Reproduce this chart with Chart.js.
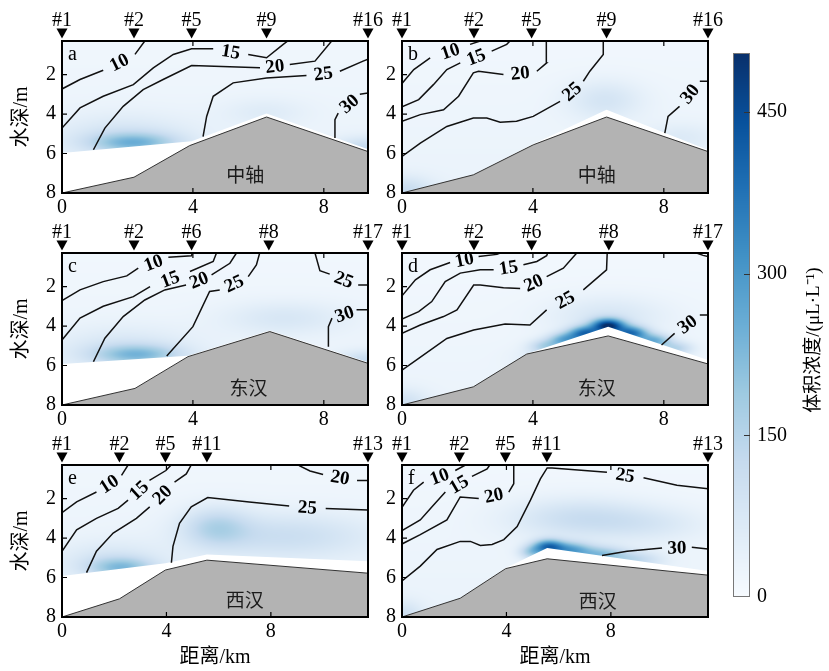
<!DOCTYPE html>
<html>
<head>
<meta charset="utf-8">
<script src="https://cdn.jsdelivr.net/npm/chart.js@4.4.1/dist/chart.umd.min.js"></script>
<style>
  body { margin: 0; background: #fff; }
  #wrap { position: relative; width: 829px; height: 671px; }
  #wrap canvas { position: absolute; left: 0; top: 0; }
</style>
</head>
<body>
<div id="wrap"></div>
<script>
// ---- data ----
const panelIds = ['a', 'b', 'c', 'd', 'e', 'f'];
const regionNames = ['中轴', '中轴', '东汉', '东汉', '西汉', '西汉'];
const xMaxKm = [9.35, 9.35, 9.35, 9.35, 11.72, 11.72];
const xTicks = [0, 4, 8];
const yTicks = [2, 4, 6, 8];
const colorTicks = [0, 150, 300, 450];

const stationNames = [
  ['#1', '#2', '#5', '#9', '#16'],
  ['#1', '#2', '#6', '#8', '#17'],
  ['#1', '#2', '#5', '#11', '#13']
];
const stationKm = [
  [0, 2.2, 3.96, 6.25, 9.35],
  [0, 2.2, 3.96, 6.32, 9.35],
  [0, 2.2, 3.96, 5.55, 11.72]
];

// bed profile (km, depth m)
const terrainA = [[0, 8], [2.2, 7.2], [3.9, 5.6], [6.25, 4.15], [9.35, 5.9]];
const terrainB = [[0, 8], [2.18, 7.08], [4.01, 5.56], [6.25, 4.15], [9.35, 5.9]];
const terrainC = [[0, 8], [2.23, 7.16], [3.85, 5.55], [6.35, 4.28], [9.35, 5.89]];
const terrainD = [[0, 8], [2.18, 7.08], [3.81, 5.42], [6.3, 4.5], [9.35, 5.92]];
const terrainE = [[0, 8], [2.2, 7.08], [3.96, 5.62], [5.55, 5.12], [11.72, 5.78]];
const terrainF = [[0, 8], [2.23, 7.05], [3.97, 5.55], [5.56, 5.05], [11.72, 5.88]];

// lower edge of the sampled water column
const waterA = [[0, 5.98], [3.96, 5.38], [6.25, 3.97], [9.35, 5.78]];
const waterB = [[0, 8], [2.18, 7.08], [4.01, 5.52], [6.25, 3.78], [9.35, 5.82]];
const waterC = [[0, 5.92], [3.85, 5.5], [6.35, 4.22], [9.35, 5.84]];
const waterD = [[0, 8], [2.18, 7.08], [3.81, 5.4], [6.3, 4.03], [9.35, 5.72]];
const waterE = [[0, 5.92], [3.96, 5.28], [5.55, 4.83], [11.72, 5.18]];
const waterF = [[0, 8], [2.23, 7.05], [3.97, 5.52], [5.56, 4.5], [11.72, 5.67]];

// background level at surface / bottom, µL/L
const bgA = [18, 36], bgB = [16, 34], bgC = [16, 34], bgD = [14, 30], bgE = [18, 38], bgF = [16, 34];

// concentration hot spots: km, depth, µL/L, spread km, spread m
const spotsA = [[2.2, 5.45, 165, 0.9, 0.35], [1.9, 5.2, 65, 1.5, 0.8], [9.3, 5.75, 100, 0.7, 0.4], [6.2, 3.9, 35, 0.9, 0.5]];
const spotsB = [[6.2, 3.3, 65, 0.8, 0.7], [0.1, 7.9, 90, 0.6, 0.5], [8.5, 5.2, 40, 0.8, 0.5]];
const spotsC = [[2.3, 5.45, 160, 0.9, 0.35], [1.9, 5.2, 60, 1.5, 0.8], [6.8, 3.6, 55, 1.3, 0.6], [9.3, 5.75, 95, 0.6, 0.35]];
const spotsD = [[4.4, 5.03, 130, 0.35, 0.25], [5.0, 4.7, 230, 0.35, 0.25], [5.6, 4.37, 330, 0.35, 0.25],
  [6.3, 3.98, 430, 0.35, 0.25], [7.0, 4.37, 330, 0.35, 0.25], [7.7, 4.76, 220, 0.35, 0.25],
  [8.4, 5.14, 120, 0.35, 0.25], [6.3, 3.5, 60, 1.2, 0.7], [4.3, 5.6, 40, 0.6, 0.4], [0.1, 7.9, 70, 0.5, 0.5]];
const spotsE = [[2.3, 5.5, 150, 0.85, 0.35], [1.9, 5.2, 60, 1.4, 0.7], [5.9, 3.45, 110, 0.9, 0.7], [8.6, 3.9, 85, 2.3, 0.8]];
const spotsF = [[6.8, 3.0, 90, 1.8, 0.7], [9.5, 3.3, 45, 1.5, 0.6], [5.0, 4.72, 150, 0.35, 0.25],
  [5.6, 4.42, 300, 0.4, 0.25], [6.4, 4.6, 230, 0.55, 0.28], [7.6, 4.85, 180, 0.7, 0.3],
  [9.0, 5.12, 100, 0.7, 0.3], [0.1, 7.9, 70, 0.5, 0.5]];

// contours: [level, index where the label breaks the line, points (km, depth)]
const contoursA = [
  [10, 3, [[0, 2.73], [0.55, 2.25], [1.26, 1.78], [2.23, 0.98], [2.53, 0.3]]],
  [15, 8, [[0, 4.71], [0.55, 3.69], [1.26, 3.1], [2.18, 2.51], [2.79, 1.66], [3.4, 0.98], [3.96, 0.69], [4.62, 0.69], [5.69, 0.98], [6.25, 1.15], [6.76, 0.47], [6.9, 0.3]]],
  [20, 7, [[0.96, 5.81], [1.31, 4.71], [1.87, 3.61], [2.48, 2.76], [3.09, 2.25], [3.96, 1.54], [6.05, 1.66], [6.96, 1.49], [7.73, 1.32], [8.24, 0.3]]],
  [25, 6, [[4.31, 5.14], [4.42, 4.12], [4.62, 3.1], [5.23, 2.42], [6.25, 2.17], [7.47, 2.05], [8.49, 1.83], [9.2, 1.32], [9.35, 1.22]]],
  [30, 2, [[9.35, 2.93], [9.1, 3.0], [8.44, 3.95], [8.34, 4.29], [8.34, 5.22]]]
];
const contoursB = [
  [10, 3, [[0, 2.45], [0.36, 1.75], [0.86, 1.15], [2.08, 0.47], [2.39, 0.3]]],
  [15, 5, [[0, 3.64], [0.51, 3.27], [0.96, 2.51], [1.37, 1.75], [1.78, 1.41], [2.74, 0.81], [3.2, 0.47], [3.3, 0.3]]],
  [20, 7, [[0, 4.37], [0.56, 4.03], [1.27, 3.78], [1.73, 3.1], [2.18, 1.91], [2.34, 1.83], [3.1, 2.0], [4.12, 1.83], [4.42, 1.41], [4.42, 0.47], [4.4, 0.3]]],
  [25, 9, [[0, 6.15], [0.56, 5.47], [1.37, 4.63], [2.18, 4.2], [2.59, 4.2], [3.0, 4.42], [3.5, 4.37], [4.01, 4.12], [4.83, 3.36], [5.54, 2.34], [5.74, 1.83], [6.15, 0.98], [6.15, 0.3]]],
  [30, 2, [[9.35, 2.34], [9.1, 2.34], [8.48, 3.61], [8.13, 4.12], [8.03, 4.97]]]
];
const contoursC = [
  [10, 5, [[0, 2.71], [0.55, 2.17], [1.26, 1.75], [1.98, 1.46], [2.33, 1.07], [3.25, 0.51], [3.96, 0.44], [3.98, 0.3]]],
  [15, 5, [[0, 4.71], [0.55, 3.6], [1.26, 3.0], [2.18, 2.51], [2.69, 2.0], [3.91, 1.24], [4.62, 0.73], [4.72, 0.3]]],
  [20, 6, [[0.96, 5.81], [1.31, 4.62], [1.87, 3.52], [2.53, 2.68], [3.14, 2.17], [3.79, 1.92], [4.57, 1.41], [5.13, 0.82], [5.33, 0.3]]],
  [25, 4, [[3.2, 5.52], [4.0, 4.03], [4.51, 2.25], [4.82, 2.17], [5.69, 1.5], [5.94, 0.9], [6.04, 0.3]]],
  [25, 3, [[7.73, 0.3], [7.88, 1.2], [8.18, 1.37], [9.05, 1.92], [9.35, 1.92]]],
  [30, 2, [[9.35, 3.18], [9.0, 3.18], [8.25, 3.6], [8.14, 4.03], [8.14, 5.05]]]
];
const contoursD = [
  [10, 4, [[0, 2.47], [0.41, 1.66], [0.86, 1.15], [1.47, 0.78], [2.34, 0.48], [2.9, 0.37], [3.0, 0.3]]],
  [15, 7, [[0, 3.65], [0.51, 3.27], [0.91, 2.76], [1.32, 1.75], [1.78, 1.32], [2.39, 1.15], [2.8, 1.15], [3.71, 0.9], [4.12, 0.73], [4.42, 0.44], [4.45, 0.3]]],
  [20, 8, [[0, 4.37], [0.56, 3.95], [1.27, 3.52], [1.68, 3.18], [2.19, 1.92], [2.39, 1.92], [3.1, 2.06], [3.61, 2.1], [4.42, 1.5], [4.93, 1.07], [5.34, 0.3]]],
  [25, 7, [[0, 6.23], [0.51, 5.64], [1.37, 4.63], [2.19, 4.2], [3.15, 3.9], [3.91, 3.95], [4.42, 3.18], [5.54, 2.17], [6.25, 1.15], [6.27, 0.3]]],
  [30, 2, [[9.35, 3.44], [9.1, 3.44], [8.33, 4.37], [7.93, 4.96]]],
  [30, 0, [[9.0, 0.3], [9.2, 0.42], [9.35, 0.48]]]
];
const contoursE = [
  [10, 3, [[0, 2.72], [0.56, 2.17], [1.32, 1.67], [2.28, 0.83], [2.53, 0.3]]],
  [15, 5, [[0, 4.67], [0.56, 3.58], [1.32, 3.0], [2.15, 2.5], [2.53, 2.08], [3.35, 1.08], [3.98, 0.58], [4.18, 0.3]]],
  [20, 5, [[0.94, 5.75], [1.32, 4.67], [1.96, 3.75], [2.85, 3.0], [3.36, 2.42], [4.31, 1.17], [4.76, 0.75], [4.95, 0.3]]],
  [25, 7, [[4.19, 5.25], [4.25, 4.42], [4.5, 3.25], [4.95, 2.42], [5.58, 1.95], [7.17, 2.17], [8.7, 2.38], [10.1, 2.5], [11.72, 2.58]]],
  [20, 3, [[9.08, 0.33], [9.5, 0.6], [10.0, 0.78], [11.3, 1.08], [11.72, 1.08]]]
];
const contoursF = [
  [10, 3, [[0, 2.45], [0.44, 1.58], [0.83, 1.17], [2.04, 0.58], [2.43, 0.3]]],
  [15, 4, [[0, 3.62], [0.7, 3.08], [1.21, 2.33], [1.66, 1.67], [2.68, 0.88], [3.26, 0.5], [3.36, 0.3]]],
  [20, 5, [[0, 4.3], [0.7, 3.83], [1.72, 3.08], [2.23, 1.92], [2.94, 2.0], [4.09, 1.67], [4.28, 1.25], [4.28, 0.35]]],
  [25, 14, [[0, 6.17], [0.7, 5.42], [1.34, 4.58], [2.23, 4.17], [2.62, 4.17], [3.0, 4.38], [3.45, 4.33], [3.9, 4.08], [4.41, 3.42], [4.92, 2.08], [5.3, 1.0], [5.56, 0.45], [5.75, 0.45], [7.85, 0.67], [9.25, 0.95], [10.53, 1.33], [11.72, 1.5]]],
  [30, 3, [[7.66, 4.88], [8.62, 4.67], [9.96, 4.5], [11.1, 4.47], [11.72, 4.55]]]
];

// ---- layout / style ----
const W = 829, H = 671;
const C_MAX = 505;
const SERIF = "'Liberation Serif', 'Times New Roman', 'Noto Sans CJK SC', serif";
const CJK = "'Noto Sans CJK SC', sans-serif";
const boxes = [[62, 41, 368, 193], [402, 41, 708, 193], [62, 253, 368, 405], [402, 253, 708, 405], [62, 465, 368, 617], [402, 465, 708, 617]];
const regionAt = [[5.6, 7.1], [5.95, 7.1], [5.7, 7.15], [5.95, 7.15], [7.0, 7.15], [7.5, 7.2]];

const bluesStops = [[247, 251, 255], [222, 235, 247], [198, 219, 239], [158, 202, 225], [107, 174, 214], [66, 146, 198], [33, 113, 181], [8, 81, 156], [8, 48, 107]];
function blues(t) {
  t = Math.max(0, Math.min(1, t));
  const f = t * 8, i = Math.min(7, Math.floor(f)), u = f - i;
  const a = bluesStops[i], b = bluesStops[i + 1];
  return [a[0] + (b[0] - a[0]) * u, a[1] + (b[1] - a[1]) * u, a[2] + (b[2] - a[2]) * u];
}

const wrap = document.getElementById('wrap');
function newCanvas() {
  const cv = document.createElement('canvas');
  cv.width = W; cv.height = H;
  cv.style.width = W + 'px'; cv.style.height = H + 'px';
  wrap.appendChild(cv);
  return cv;
}

function drawField(chart, p) {
  const { ctx, chartArea: a, scales: { x, y } } = chart;
  const w = Math.round(a.right - a.left), h = Math.round(a.bottom - a.top);
  const off = document.createElement('canvas');
  off.width = w; off.height = h;
  const oc = off.getContext('2d');
  const img = oc.createImageData(w, h);
  for (let j = 0; j < h; j++) {
    const d = y.getValueForPixel(a.top + j + 0.5);
    for (let i = 0; i < w; i++) {
      const xv = x.getValueForPixel(a.left + i + 0.5);
      let v = p.bg[0] + (p.bg[1] - p.bg[0]) * d / 8;
      for (const s of p.spots) {
        const dx = (xv - s[0]) / s[3], dy = (d - s[1]) / s[4];
        v += s[2] * Math.exp(-0.5 * (dx * dx + dy * dy));
      }
      const c = blues(v / C_MAX);
      const k = (j * w + i) * 4;
      img.data[k] = c[0]; img.data[k + 1] = c[1]; img.data[k + 2] = c[2]; img.data[k + 3] = 255;
    }
  }
  oc.putImageData(img, 0, 0);
  ctx.save();
  ctx.beginPath();
  ctx.moveTo(a.left, a.top);
  p.water.forEach(([wx, wd]) => ctx.lineTo(x.getPixelForValue(wx), y.getPixelForValue(wd)));
  ctx.lineTo(a.right, a.top);
  ctx.closePath();
  ctx.clip();
  ctx.drawImage(off, a.left, a.top);
  ctx.restore();
}

function makePlugin(p, idx) {
  return {
    id: 'panel' + idx,
    beforeDatasetsDraw(chart) { drawField(chart, p); },
    afterDatasetsDraw(chart) {
      const { ctx, chartArea: a, scales: { x, y } } = chart;
      ctx.save();
      ctx.fillStyle = '#000';
      ctx.textAlign = 'center';
      ctx.textBaseline = 'middle';

      // contour labels
      ctx.font = 'bold 19px ' + SERIF;
      p.contours.forEach(([lev, cut, pts]) => {
        if (cut <= 0) return;
        const p1 = pts[cut - 1], p2 = pts[cut];
        const x1 = x.getPixelForValue(p1[0]), y1 = y.getPixelForValue(p1[1]);
        const x2 = x.getPixelForValue(p2[0]), y2 = y.getPixelForValue(p2[1]);
        let ang = Math.atan2(y2 - y1, x2 - x1);
        if (ang > Math.PI / 2) ang -= Math.PI;
        else if (ang < -Math.PI / 2) ang += Math.PI;
        ctx.save();
        ctx.translate((x1 + x2) / 2, (y1 + y2) / 2);
        ctx.rotate(ang);
        ctx.fillText(String(lev), 0, 1);
        ctx.restore();
      });

      // region name in the bed
      ctx.font = '19px ' + CJK;
      ctx.fillStyle = '#1a1a1a';
      ctx.fillText(p.region, x.getPixelForValue(regionAt[idx][0]), y.getPixelForValue(regionAt[idx][1]));

      // panel letter
      ctx.fillStyle = '#000';
      ctx.textAlign = 'left';
      ctx.textBaseline = 'alphabetic';
      ctx.font = '20px ' + SERIF;
      ctx.fillText(p.id, a.left + 6, a.top + 19);

      // frame and inward ticks
      ctx.strokeStyle = '#000';
      ctx.lineWidth = 2;
      ctx.strokeRect(a.left, a.top, a.right - a.left, a.bottom - a.top);
      ctx.lineWidth = 1.2;
      ctx.beginPath();
      xTicks.forEach(t => {
        if (t <= 0) return;
        const px = x.getPixelForValue(t);
        ctx.moveTo(px, a.bottom); ctx.lineTo(px, a.bottom - 5);
        ctx.moveTo(px, a.top); ctx.lineTo(px, a.top + 5);
      });
      yTicks.forEach(t => {
        if (t >= 8) return;
        const py = y.getPixelForValue(t);
        ctx.moveTo(a.left, py); ctx.lineTo(a.left + 5, py);
      });
      ctx.stroke();

      // station markers
      ctx.textAlign = 'center';
      ctx.font = '20px ' + SERIF;
      p.stX.forEach((sx, k) => {
        const px = x.getPixelForValue(sx);
        ctx.beginPath();
        ctx.moveTo(px - 5.5, a.top - 12.5);
        ctx.lineTo(px + 5.5, a.top - 12.5);
        ctx.lineTo(px, a.top - 2.5);
        ctx.closePath();
        ctx.fill();
        ctx.fillText(p.st[k], px, a.top - 15);
      });

      // axis titles
      ctx.font = '20px ' + SERIF;
      ctx.textBaseline = 'middle';
      if (idx % 2 === 0) {
        ctx.save();
        ctx.translate(22, (a.top + a.bottom) / 2);
        ctx.rotate(-Math.PI / 2);
        ctx.fillText('水深/m', 0, 0);
        ctx.restore();
      }
      if (idx >= 4) ctx.fillText('距离/km', (a.left + a.right) / 2, 658);
      ctx.restore();
    }
  };
}

const terrains = [terrainA, terrainB, terrainC, terrainD, terrainE, terrainF];
const waters = [waterA, waterB, waterC, waterD, waterE, waterF];
const contourSets = [contoursA, contoursB, contoursC, contoursD, contoursE, contoursF];
const spotSets = [spotsA, spotsB, spotsC, spotsD, spotsE, spotsF];
const bgs = [bgA, bgB, bgC, bgD, bgE, bgF];

function contourData(c) {
  const pts = c[2].map(([x, y]) => ({ x, y }));
  if (c[1] > 0) pts.splice(c[1], 0, { x: (c[2][c[1] - 1][0] + c[2][c[1]][0]) / 2, y: null });
  return pts;
}

const tickFont = { family: SERIF, size: 20 };

panelIds.forEach((id, i) => {
  const row = Math.floor(i / 2);
  const p = {
    id, region: regionNames[i], st: stationNames[row], stX: stationKm[row],
    water: waters[i], contours: contourSets[i], spots: spotSets[i], bg: bgs[i]
  };
  const [L, T, R, B] = boxes[i];
  const yW = 30, xH = 26;
  const datasets = [{
    data: terrains[i].map(([x, y]) => ({ x, y })),
    borderColor: '#333', borderWidth: 1, backgroundColor: '#b3b3b3',
    fill: { value: 8 }, pointRadius: 0, tension: 0, order: 1
  }];
  p.contours.forEach(c => datasets.push({
    data: contourData(c), borderColor: '#111', borderWidth: 1.5,
    pointRadius: 0, fill: false, spanGaps: false, tension: 0, order: 0
  }));

  new Chart(newCanvas(), {
    type: 'line',
    data: { datasets },
    options: {
      responsive: false, animation: false, events: [],
      layout: { padding: { left: L - yW, right: W - R, top: T, bottom: H - B - xH } },
      plugins: { legend: { display: false }, tooltip: { enabled: false } },
      scales: {
        x: {
          type: 'linear', min: 0, max: xMaxKm[i],
          afterBuildTicks: s => { s.ticks = xTicks.map(v => ({ value: v })); },
          afterFit: s => { s.height = xH; },
          grid: { display: false, drawTicks: false }, border: { display: false },
          ticks: { font: tickFont, color: '#000', padding: 3, maxRotation: 0, autoSkip: false }
        },
        y: {
          type: 'linear', reverse: true, min: 0.3, max: 8,
          afterBuildTicks: s => { s.ticks = yTicks.map(v => ({ value: v })); },
          afterFit: s => { s.width = yW; },
          grid: { display: false, drawTicks: false }, border: { display: false },
          ticks: { font: tickFont, color: '#000', padding: 6, autoSkip: false }
        }
      }
    },
    plugins: [makePlugin(p, i)]
  });
});

// colour bar
const barBox = [733, 53, 750, 597];
const colorBarPlugin = {
  id: 'colorbar',
  beforeDatasetsDraw(chart) {
    const { ctx, chartArea: a, scales: { y } } = chart;
    for (let py = Math.floor(a.top); py < a.bottom; py++) {
      const c = blues(y.getValueForPixel(py + 0.5) / C_MAX);
      ctx.fillStyle = `rgb(${c[0] | 0},${c[1] | 0},${c[2] | 0})`;
      ctx.fillRect(a.left, py, a.right - a.left, 1);
    }
  },
  afterDatasetsDraw(chart) {
    const { ctx, chartArea: a, scales: { y } } = chart;
    ctx.save();
    ctx.strokeStyle = '#777';
    ctx.lineWidth = 1;
    ctx.strokeRect(a.left + 0.5, a.top + 0.5, a.right - a.left - 1, a.bottom - a.top - 1);
    ctx.strokeStyle = '#333';
    ctx.beginPath();
    colorTicks.forEach(t => {
      if (t <= 0) return;
      const py = Math.round(y.getPixelForValue(t)) + 0.5;
      ctx.moveTo(a.right - 6, py); ctx.lineTo(a.right, py);
    });
    ctx.stroke();
    ctx.fillStyle = '#000';
    ctx.font = '19px ' + SERIF;
    ctx.textAlign = 'center';
    ctx.textBaseline = 'middle';
    ctx.translate(814, 340);
    ctx.rotate(-Math.PI / 2);
    ctx.fillText('体积浓度/(μL·L⁻¹)', 0, 0);
    ctx.restore();
  }
};

new Chart(newCanvas(), {
  type: 'line',
  data: { datasets: [] },
  options: {
    responsive: false, animation: false, events: [],
    layout: { padding: { left: barBox[0], right: 0, top: barBox[1], bottom: H - barBox[3] } },
    plugins: { legend: { display: false }, tooltip: { enabled: false } },
    scales: {
      x: { type: 'linear', display: false, min: 0, max: 1 },
      y: {
        type: 'linear', position: 'right', min: 0, max: C_MAX,
        afterBuildTicks: s => { s.ticks = colorTicks.map(v => ({ value: v })); },
        afterFit: s => { s.width = W - barBox[2]; },
        grid: { display: false, drawTicks: false }, border: { display: false },
        ticks: { font: tickFont, color: '#000', padding: 7, autoSkip: false }
      }
    }
  },
  plugins: [colorBarPlugin]
});
</script>
</body>
</html>
